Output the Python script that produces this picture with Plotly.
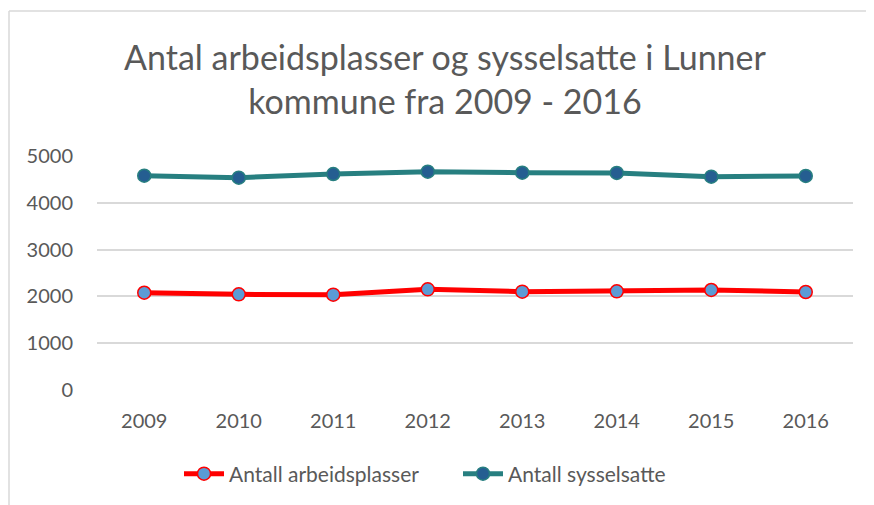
import plotly.graph_objects as go

years = ["2009", "2010", "2011", "2012", "2013", "2014", "2015", "2016"]
arbeidsplasser = [2079, 2044, 2037, 2151, 2101, 2108, 2137, 2094]
sysselsatte = [4579, 4536, 4615, 4665, 4643, 4637, 4558, 4573]
y_ticks = [0, 1000, 2000, 3000, 4000, 5000]

OFF = 8  # default body margin of the page
W, H = 874 - OFF, 505 - OFF
L, R, T, B = 97 - OFF, 21, 156 - OFF, 115
pw, ph = W - L - R, H - T - B

fig = go.Figure()
fig.add_trace(go.Scatter(
    x=years, y=arbeidsplasser, name="Antall arbeidsplasser", mode="lines+markers",
    line=dict(color="#FF0000", width=5),
    marker=dict(size=13, color="#5B9BD5", line=dict(color="#FF0000", width=1.5)),
))
fig.add_trace(go.Scatter(
    x=years, y=sysselsatte, name="Antall sysselsatte", mode="lines+markers",
    line=dict(color="#277F80", width=5),
    marker=dict(size=13, color="#255E91", line=dict(color="#277F80", width=1.5)),
))

bx = (9 - OFF - L) / pw
by = 1 + (T - (11 - OFF)) / ph
fig.add_shape(type="line", xref="paper", yref="paper", x0=bx, x1=bx, y0=-1, y1=by,
              line=dict(color="#D9D9D9", width=1.5))
fig.add_shape(type="line", xref="paper", yref="paper", x0=bx, x1=1.2, y0=by, y1=by,
              line=dict(color="#D9D9D9", width=1.5))

fig.update_layout(
    width=W, height=H,
    margin=dict(l=L, r=R, t=T, b=B),
    paper_bgcolor="white", plot_bgcolor="white",
    font=dict(family="Lato, sans-serif", color="#595959"),
    title=dict(text="Antal arbeidsplasser og sysselsatte i Lunner<br>kommune fra 2009 - 2016",
               x=(445 - OFF) / W, xanchor="center", xref="container",
               y=1 - (70 - OFF) / H, yanchor="middle", yref="container",
               font=dict(size=34, color="#595959")),
    xaxis=dict(type="category", range=[-0.5, 7.5], showgrid=False, zeroline=False,
               showline=False, ticks="outside", ticklen=13, tickcolor="rgba(0,0,0,0)",
               tickfont=dict(size=20, color="#595959")),
    yaxis=dict(range=[0, 5000], tickvals=y_ticks, showgrid=True, gridcolor="#D9D9D9",
               gridwidth=1.5, zeroline=False, showline=False, ticks="outside", ticklen=19,
               tickcolor="rgba(0,0,0,0)", tickfont=dict(size=20, color="#595959")),
    legend=dict(orientation="h", x=(458 - OFF) / W, xanchor="center", xref="container",
                y=1 - (474 - OFF) / H, yanchor="middle", yref="container",
                font=dict(size=21, color="#595959"), itemwidth=40, tracegroupgap=0,
                entrywidth=224, entrywidthmode="pixels"),
    showlegend=True,
)

fig.write_html("out.html")
